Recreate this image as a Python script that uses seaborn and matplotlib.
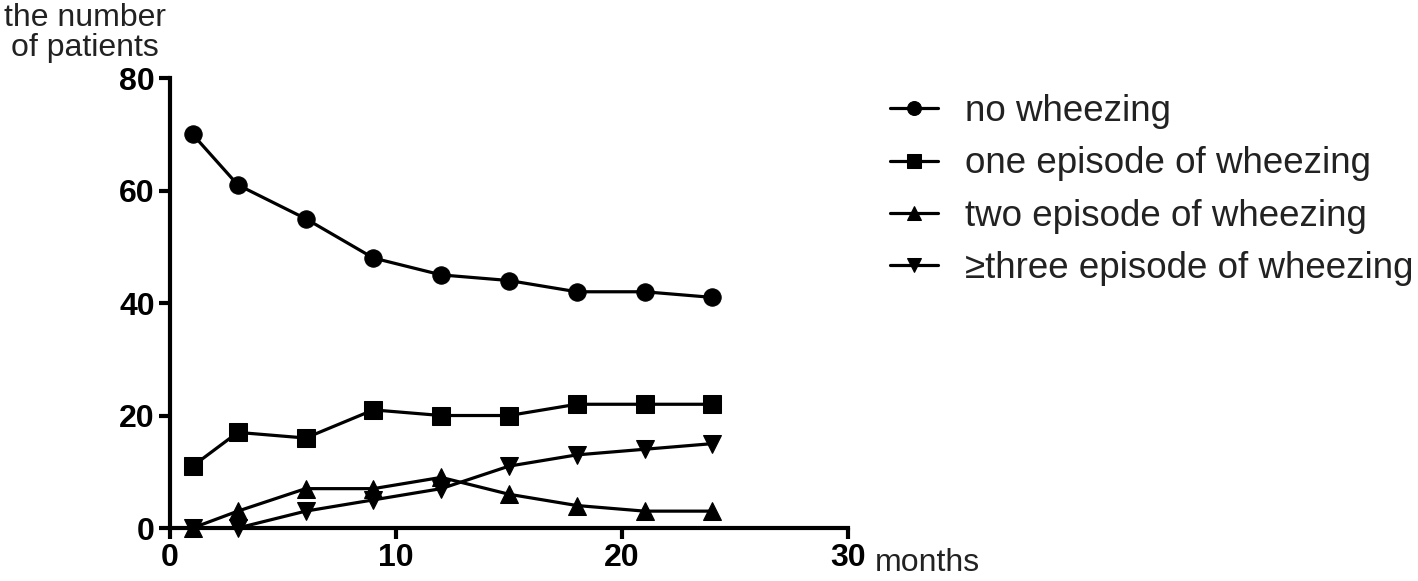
import numpy as np
import pandas as pd
import seaborn as sns
import matplotlib.pyplot as plt

# months of follow-up
months = [1, 3, 6, 9, 12, 15, 18, 21, 24]

# number of patients per group
no_wheezing = [70, 61, 55, 48, 45, 44, 42, 42, 41]
one_episode = [11, 17, 16, 21, 20, 20, 22, 22, 22]
two_episode = [0, 3, 7, 7, 9, 6, 4, 3, 3]
three_plus = [0, 0, 3, 5, 7, 11, 13, 14, 15]

labels = ['no wheezing', 'one episode of wheezing',
          'two episode of wheezing', '\u2265three episode of wheezing']
markers = ['o', 's', '^', 'v']

data = pd.concat([
    pd.DataFrame({'months': months, 'patients': vals, 'group': lab})
    for vals, lab in zip([no_wheezing, one_episode, two_episode, three_plus], labels)
])

sns.set_style('ticks', {'text.color': 'black', 'xtick.color': 'black',
                        'ytick.color': 'black', 'axes.edgecolor': 'black'})
plt.rcParams['font.family'] = ['Liberation Sans', 'DejaVu Sans']

fig = plt.figure(figsize=(14.18, 5.81), dpi=100)
ax = fig.add_axes([0.1199, 0.0912, 0.4781, 0.7745])

sns.lineplot(data=data, x='months', y='patients', hue='group', style='group',
             palette=['black'] * 4, markers=dict(zip(labels, markers)),
             dashes=False, markersize=12.5, linewidth=2.3, markeredgecolor='black',
             ax=ax)

ax.set_xlim(0, 30)
ax.set_ylim(0, 80)
ax.set_xticks([0, 10, 20, 30])
ax.set_yticks([0, 20, 40, 60, 80])
ax.set_xlabel('')
ax.set_ylabel('')
sns.despine(ax=ax)
for s in ['left', 'bottom']:
    ax.spines[s].set_linewidth(3)
ax.tick_params(width=3, length=8, labelsize=23, labelcolor='black')
ax.tick_params(axis='x', pad=3)
ax.tick_params(axis='y', pad=3)
for t in ax.get_xticklabels() + ax.get_yticklabels():
    t.set_fontweight('bold')

for line in ax.lines:
    line.set_clip_on(False)

leg = ax.legend(loc='upper left', bbox_to_anchor=(1.04, 0.997), frameon=False,
                fontsize=26.5, handlelength=1.3, labelspacing=0.47,
                handletextpad=0.75, borderaxespad=0, markerscale=0.8)
for t in leg.get_texts():
    t.set_color('#222222')

fig.text(0.003, 0.995, 'the number\nof patients', ha='left', va='top',
         fontsize=23, multialignment='center', linespacing=1.0, color='#222222')
fig.text(0.617, 0.031, 'months', ha='left', va='center', fontsize=23,
         color='#222222')

fig.savefig('out.png', dpi=100)
